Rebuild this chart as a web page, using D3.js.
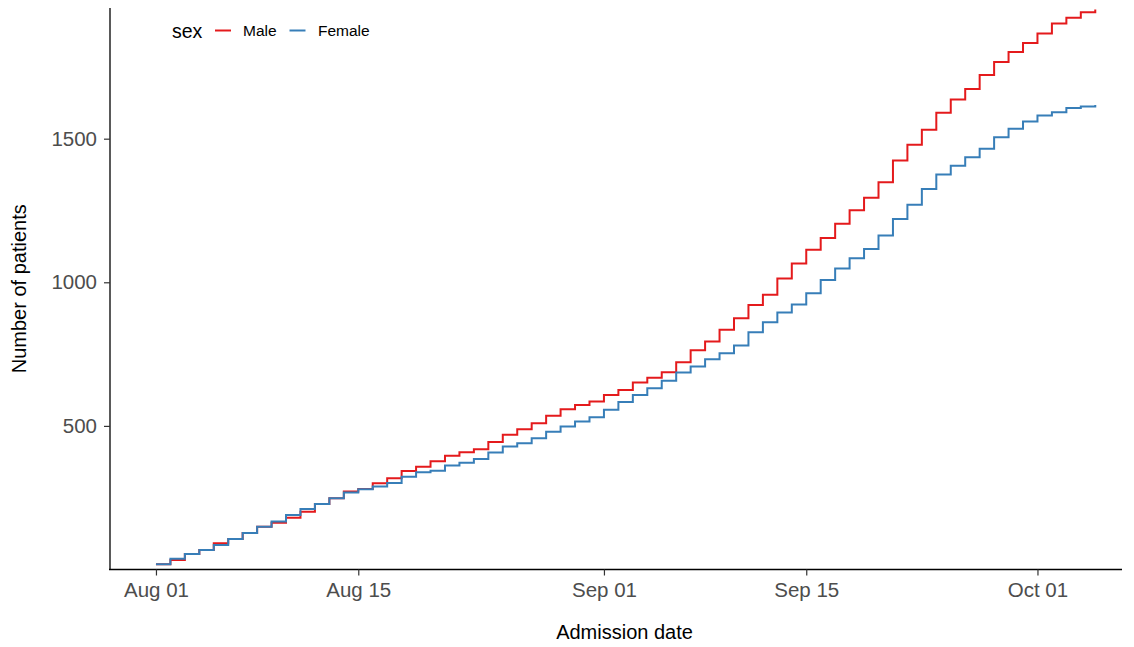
<!DOCTYPE html>
<html>
<head>
<meta charset="utf-8">
<script src="https://cdn.jsdelivr.net/npm/d3@7"></script>
<style>
  html, body { margin: 0; padding: 0; background: #fff; }
  svg { display: block; font-family: "Liberation Sans", Arial, Helvetica, sans-serif; }
</style>
</head>
<body>
<svg id="chart" width="1134" height="647"></svg>
<script>
// ---- data ----
const startDate = "2020-08-01";
const seriesNames = ["Male", "Female"];
const maleCumulative = [18, 33, 54, 68, 91, 106, 127, 149, 163, 180, 201, 228, 248, 272, 280, 300, 318, 343, 358, 377,
  396, 408, 419, 444, 469, 488, 509, 535, 558, 573, 585, 608, 625, 651, 668, 687, 722, 763, 794, 835,
  875, 921, 957, 1013, 1065, 1113, 1154, 1204, 1251, 1294, 1348, 1424, 1479, 1531, 1590, 1636, 1673, 1722, 1767, 1802,
  1833, 1866, 1901, 1921, 1940, 1950];
const femaleCumulative = [18, 37, 54, 68, 85, 106, 127, 149, 167, 190, 211, 228, 248, 268, 279, 289, 301, 323, 339, 344,
  362, 372, 385, 407, 428, 440, 457, 480, 498, 515, 530, 556, 583, 608, 631, 657, 686, 707, 732, 753,
  780, 826, 861, 895, 923, 962, 1008, 1048, 1084, 1116, 1163, 1220, 1270, 1325, 1375, 1406, 1435, 1465, 1505, 1535,
  1560, 1581, 1592, 1607, 1612, 1617];
const yTicks = [500, 1000, 1500];
const xTickDates = ["2020-08-01", "2020-08-15", "2020-09-01", "2020-09-15", "2020-10-01"];
const xTitle = "Admission date";
const yTitle = "Number of patients";
const legendTitle = "sex";
const colors = { Male: "#E41A1C", Female: "#377EB8" };

// ---- setup ----
const parse = d3.utcParse("%Y-%m-%d");
const day0 = parse(startDate);
const DAY = 86400000;
const toSeries = arr => arr.map((v, i) => ({ date: new Date(day0.getTime() + i * DAY), value: v }));
const series = [
  { name: "Male", values: toSeries(maleCumulative) },
  { name: "Female", values: toSeries(femaleCumulative) }
];

const svg = d3.select("#chart");
const panel = { left: 109, right: 1122, top: 8, bottom: 569.5 };

const x = d3.scaleUtc()
  .domain([new Date(day0.getTime() - 3.25 * DAY), new Date(day0.getTime() + 66.85 * DAY)])
  .range([panel.left, panel.right]);
const y = d3.scaleLinear()
  .domain([0, 1955])
  .range([panel.bottom, panel.top]);

// lines
const line = d3.line()
  .x(d => x(d.date))
  .y(d => y(d.value))
  .curve(d3.curveStepAfter);

svg.append("g").selectAll("path")
  .data(series)
  .join("path")
  .attr("d", d => line(d.values))
  .attr("fill", "none")
  .attr("stroke", d => colors[d.name])
  .attr("stroke-width", 2)
  .attr("stroke-linejoin", "miter");

// x axis
const fmt = d3.utcFormat("%b %d");
const xAxis = d3.axisBottom(x)
  .tickValues(xTickDates.map(parse))
  .tickFormat(fmt)
  .tickSize(6)
  .tickPadding(7);
const gx = svg.append("g").attr("transform", `translate(0,${panel.bottom})`).call(xAxis);
gx.select(".domain").attr("d", `M${panel.left},0H${panel.right}`).attr("stroke", "#000").attr("stroke-width", 1.3);
gx.selectAll(".tick line").attr("stroke", "#333").attr("stroke-width", 1.2);
gx.selectAll(".tick text").attr("fill", "#4D4D4D").attr("font-size", 20.5).attr("font-family", "Liberation Sans, Arial, sans-serif");

// y axis
const yAxis = d3.axisLeft(y)
  .tickValues(yTicks)
  .tickFormat(d3.format("d"))
  .tickSize(6)
  .tickPadding(7);
const gy = svg.append("g").attr("transform", `translate(${panel.left + 1},0)`).call(yAxis);
gy.select(".domain").attr("d", `M0,${panel.top}V${panel.bottom + 0.5}`).attr("stroke", "#000").attr("stroke-width", 1.3);
gy.selectAll(".tick line").attr("stroke", "#333").attr("stroke-width", 1.2);
gy.selectAll(".tick text").attr("fill", "#4D4D4D").attr("font-size", 20.5).attr("font-family", "Liberation Sans, Arial, sans-serif");

// axis titles
svg.append("text")
  .attr("x", (panel.left + panel.right) / 2 + 9)
  .attr("y", 639)
  .attr("text-anchor", "middle")
  .attr("font-size", 20)
  .attr("fill", "#000")
  .text(xTitle);

svg.append("text")
  .attr("transform", `translate(26,${(panel.top + panel.bottom) / 2}) rotate(-90)`)
  .attr("text-anchor", "middle")
  .attr("font-size", 20)
  .attr("fill", "#000")
  .text(yTitle);

// legend
const lg = svg.append("g");
lg.append("text").attr("x", 172).attr("y", 38).attr("font-size", 19.5).attr("fill", "#000").text(legendTitle);
const legendItems = [
  { name: "Male", kx: 215, tx: 243 },
  { name: "Female", kx: 289.5, tx: 318 }
];
legendItems.forEach(it => {
  lg.append("line")
    .attr("x1", it.kx).attr("x2", it.kx + 16)
    .attr("y1", 30.5).attr("y2", 30.5)
    .attr("stroke", colors[it.name]).attr("stroke-width", 2);
  lg.append("text")
    .attr("x", it.tx).attr("y", 36)
    .attr("font-size", 15.5).attr("fill", "#000")
    .text(it.name);
});
</script>
</body>
</html>
